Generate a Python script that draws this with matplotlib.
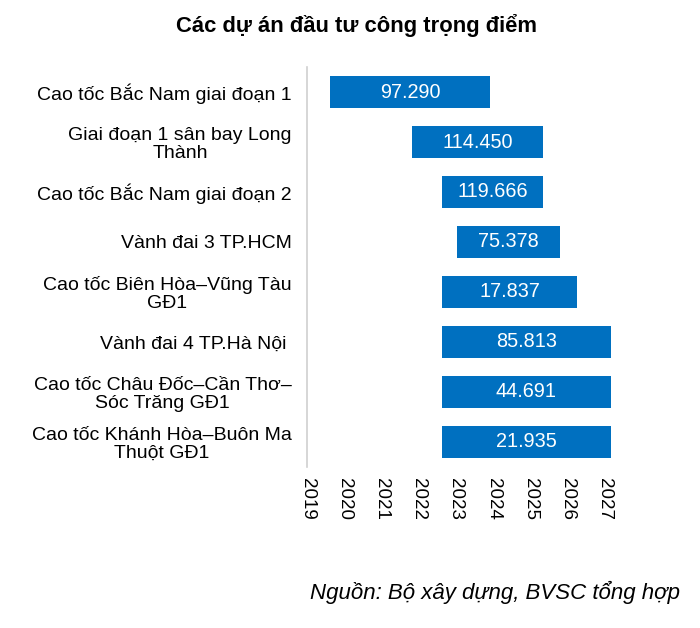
import matplotlib
matplotlib.use("Agg")
import matplotlib.pyplot as plt

plt.rcParams['font.family'] = ['Liberation Sans', 'DejaVu Sans']

# project names, start/end (in years) and investment value labels
projects = [
    "Cao tốc Bắc Nam giai đoạn 1",
    "Giai đoạn 1 sân bay Long\nThành",
    "Cao tốc Bắc Nam giai đoạn 2",
    "Vành đai 3 TP.HCM",
    "Cao tốc Biên Hòa–Vũng Tàu\nGĐ1",
    "Vành đai 4 TP.Hà Nội ",
    "Cao tốc Châu Đốc–Cần Thơ–\nSóc Trăng GĐ1",
    "Cao tốc Khánh Hòa–Buôn Ma\nThuột GĐ1",
]
start = [2019.63, 2021.81, 2022.63, 2023.02, 2022.63, 2022.63, 2022.63, 2022.63]
end = [2023.91, 2025.34, 2025.34, 2025.79, 2026.26, 2027.16, 2027.16, 2027.16]
values = ["97.290", "114.450", "119.666", "75.378", "17.837", "85.813", "44.691", "21.935"]
years = list(range(2019, 2028))

fig = plt.figure(figsize=(7, 6.28), dpi=100)
ax = fig.add_axes([0.4386, 0.2564, 0.436, 0.6369])

pos = list(range(len(projects)))
widths = [e - s for s, e in zip(start, end)]
ax.barh(pos, widths, left=start, height=0.65, color='#0070C0')

for p, s, w, v in zip(pos, start, widths, values):
    ax.text(s + w / 2, p, v, ha='center', va='center', color='white', fontsize=14.3)

ax.set_ylim(len(projects) - 0.5, -0.5)
ax.set_xlim(2019, 2027.2)
ax.set_yticks(pos)
ax.set_yticklabels(projects, fontsize=14, multialignment='center', linespacing=1.05)
ax.set_xticks(years)
ax.set_xticklabels([str(y) for y in years], rotation=-90, fontsize=13.5)
ax.tick_params(axis='both', length=0)
ax.tick_params(axis='y', pad=11)
ax.tick_params(axis='x', pad=8)

for side in ['top', 'right', 'bottom']:
    ax.spines[side].set_visible(False)
ax.spines['left'].set_color('#D0D0D0')
ax.spines['left'].set_linewidth(1.2)

fig.text(0.51, 0.96, "Các dự án đầu tư công trọng điểm", ha='center', va='center',
         fontsize=15.8, fontweight='bold')
fig.text(0.972, 0.057, "Nguồn: Bộ xây dựng, BVSC tổng hợp", ha='right', va='center',
         fontsize=16, style='italic')

fig.savefig("out.png", dpi=100)
